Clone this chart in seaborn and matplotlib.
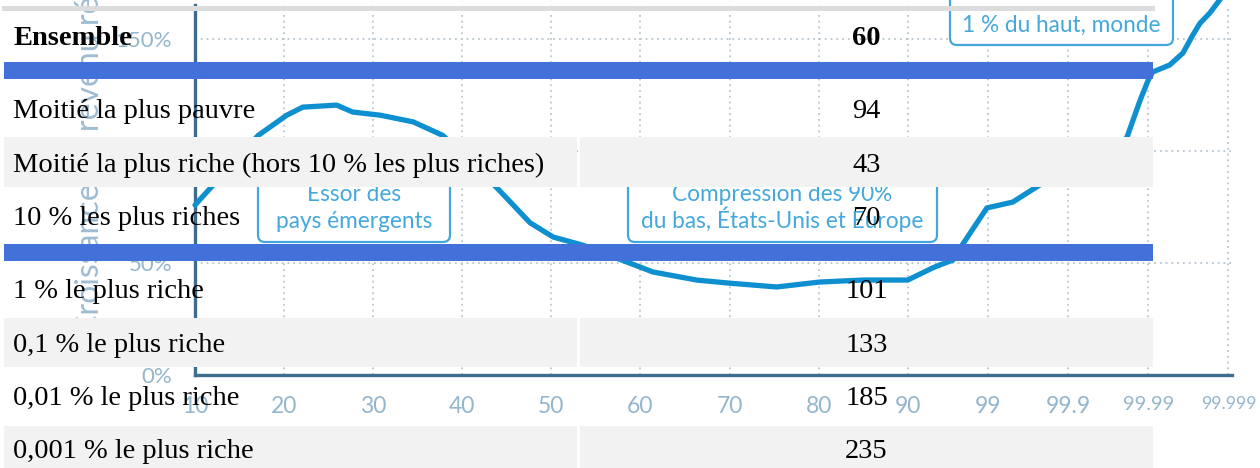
import numpy as np
import matplotlib
matplotlib.use("Agg")
import matplotlib.pyplot as plt
from matplotlib.patches import Rectangle, FancyBboxPatch
import seaborn as sns

# ---------------- data ----------------
# elephant curve: percentile of world income distribution vs real income growth (%)
percentile = [10, 17.1, 20.3, 22.1, 25.9, 27.7, 30.8, 34.5, 37.8, 40.9, 43.9, 47.6,
              50.2, 53.5, 58.5, 61.4, 66.3, 70, 75.3, 80.1, 85, 90, 95.1, 96.0, 97.26,
              97.95, 98.97, 99.51, 99.773, 99.874, 99.946, 99.974, 99.9815, 99.9874,
              99.99, 99.9912, 99.99459, 99.99631, 99.99722, 99.99773, 99.99829,
              99.99871, 99.999]
growth = [75.9, 107, 116, 119.6, 120.5, 117.4, 116, 113, 107, 95.5, 83.5, 68,
          61.6, 58, 50.4, 46, 42.4, 41, 39.3, 41.5, 42.4, 42.4, 47.8, 49.1, 51.3,
          58.5, 74.6, 77.2, 84.8, 88, 93.8, 101, 106, 122.8,
          131.7, 135.3, 138.4, 143.8, 151.8, 157, 161.6,
          167.4, 174]

x_ticks = [10, 20, 30, 40, 50, 60, 70, 80, 90, 99, 99.9, 99.99, 99.999]
x_tick_labels = ["10", "20", "30", "40", "50", "60", "70", "80", "90",
                 "99", "99.9", "99.99", "99.999"]
y_ticks = [0, 50, 100, 150]
y_tick_labels = ["0%", "50%", "100%", "150%"]
y_label = "Croissance du revenu réel par adulte"

annotations = ["Essor des\npays émergents",
               "Compression des 90%\ndu bas, États-Unis et Europe",
               "1 % du haut, monde"]

# table overlay
table_header = "Ensemble"
table_header_value = "60"
table_labels = ["Moitié la plus pauvre",
                "Moitié la plus riche (hors 10 % les plus riches)",
                "10 % les plus riches",
                "1 % le plus riche",
                "0,1 % le plus riche",
                "0,01 % le plus riche",
                "0,001 % le plus riche"]
table_values = ["94", "43", "70", "101", "133", "185", "235"]

# ---------------- style ----------------
sns.set_style("white")
plt.rcParams['font.family'] = ['Lato', 'DejaVu Sans']

W, H = 1260, 468
fig = plt.figure(figsize=(W / 100, H / 100), dpi=100)

AXIS_C = "#3d6d8e"
TICK_C = "#93b6cd"
GRID_C = "#b9c5ce"
LINE_C = "#0e8fcf"
ANN_C = "#45a8dc"


def fwd(p):
    p = np.asarray(p, dtype=float)
    lo = (p - 10.0) / 10.0
    tail = np.clip(100.0 - p, 1e-9, None)
    hi = 8.0 + 0.9 * np.log10(10.0 / tail)
    return np.where(p <= 90, lo, hi)


def inv(x):
    x = np.asarray(x, dtype=float)
    lo = 10.0 + 10.0 * x
    hi = 100.0 - 10.0 * 10 ** (-(np.clip(x, 8, None) - 8.0) / 0.9)
    return np.where(x <= 8, lo, hi)


ax = fig.add_axes([195 / W, (H - 375) / H, (1232 - 195) / W, (375 - 5) / H])
ax.set_xscale('function', functions=(fwd, inv))

sns.lineplot(x=percentile, y=growth, ax=ax, color=LINE_C, linewidth=3.8,
             sort=False, clip_on=False, zorder=3,
             solid_joinstyle='round', solid_capstyle='round')

ax.set_xlim(10, float(inv(11.64)))
ax.set_ylim(0, 165.2)
ax.set_xticks(x_ticks)
ax.set_xticklabels(x_tick_labels)
ax.set_yticks(y_ticks)
ax.set_yticklabels(y_tick_labels)
ax.minorticks_off()

label_sizes = [16.5] * 11 + [14.5, 12.8]
for lab, fs in zip(ax.get_xticklabels(), label_sizes):
    lab.set_fontsize(fs)

ax.tick_params(axis='x', direction='out', length=6, width=2.2, color=AXIS_C,
               pad=9, labelcolor=TICK_C)
ax.tick_params(axis='y', direction='out', length=7, width=2.2, color=AXIS_C,
               pad=9.5, labelcolor=TICK_C, labelsize=16)
for s in ['top', 'right']:
    ax.spines[s].set_visible(False)
for s in ['left', 'bottom']:
    ax.spines[s].set_color(AXIS_C)
    ax.spines[s].set_linewidth(2.4)
ax.set_axisbelow(True)
ax.grid(True, color=GRID_C, linestyle=(0, (1, 2.2)), linewidth=1.3)
ax.set_xlabel("")
ax.set_ylabel("")
ax.patch.set_alpha(0)

fig.text(90 / W, (H - 336) / H, y_label, rotation=90, ha='center', va='bottom',
         color=TICK_C, fontsize=23, alpha=0.9)

# ---------------- overlay (annotations + table) ----------------
ov = fig.add_axes([0, 0, 1, 1], zorder=5)
ov.set_xlim(0, W)
ov.set_ylim(H, 0)
ov.axis('off')
ov.patch.set_alpha(0)

boxes = [(258, 160, 450, 242), (628, 160, 937, 242), (950, -40, 1173, 45)]
for (x0, y0, x1, y1) in boxes:
    ov.add_patch(FancyBboxPatch((x0, y0), x1 - x0, y1 - y0,
                                boxstyle="round,pad=0,rounding_size=7",
                                fc='white', ec=ANN_C, lw=1.6, zorder=1))

ann_pos = [(354, [201, 228]), (782, [201, 228]), (1061, [32])]
for text, (cx, baselines) in zip(annotations, ann_pos):
    for line, b in zip(text.split("\n"), baselines):
        ov.text(cx, b, line, ha='center', va='baseline', color=ANN_C,
                fontsize=16.3, zorder=2)

SERIF = ['Liberation Serif', 'DejaVu Serif']
ov.add_patch(Rectangle((2, 6), 1153, 4.5, color="#dcdcdc", lw=0, zorder=3))
BLUE = "#4371da"
ov.add_patch(Rectangle((4, 62), 1149, 17, color=BLUE, lw=0, zorder=3))
ov.add_patch(Rectangle((4, 244), 1149, 16.5, color=BLUE, lw=0, zorder=3))
for (y0, y1) in [(137, 187), (318, 367), (426, 470)]:
    ov.add_patch(Rectangle((4, y0), 573, y1 - y0, color="#f2f2f2", lw=0, zorder=3))
    ov.add_patch(Rectangle((580, y0), 573, y1 - y0, color="#f2f2f2", lw=0, zorder=3))

ov.text(13, 45, table_header, ha='left', va='baseline', family=SERIF,
        fontsize=20.5, fontweight='bold', color='black', zorder=4)
ov.text(866.5, 45, table_header_value, ha='center', va='baseline', family=SERIF,
        fontsize=20.5, fontweight='bold', color='black', zorder=4)
row_baselines = [118, 172, 225, 298, 352, 405, 458]
for lab, val, b in zip(table_labels, table_values, row_baselines):
    ov.text(13, b, lab, ha='left', va='baseline', family=SERIF, fontsize=20.5,
            color='black', zorder=4)
    ov.text(866.5, b, val, ha='center', va='baseline', family=SERIF,
            fontsize=20.5, color='black', zorder=4)

fig.savefig("out.png", dpi=100)
